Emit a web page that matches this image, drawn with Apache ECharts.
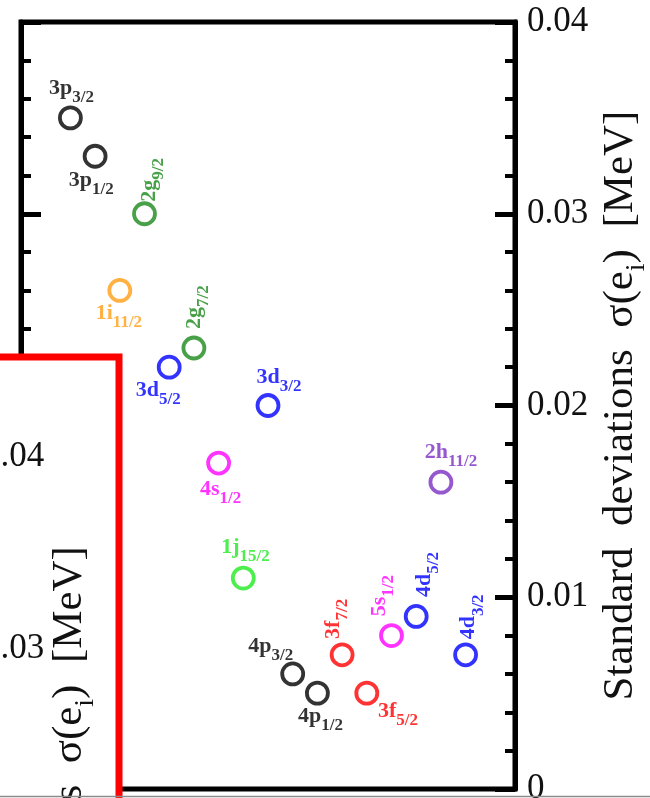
<!DOCTYPE html>
<html>
<head>
<meta charset="utf-8">
<script src="https://cdn.jsdelivr.net/npm/echarts@6/dist/echarts.min.js"></script>
<style>
  html, body { margin: 0; padding: 0; background: #ffffff; }
  #chart { width: 650px; height: 798px; }
</style>
</head>
<body>
<div id="chart"></div>
<script>
// Single-particle orbitals, in the order they sit along the horizontal axis
const orbitalShells = ['3p', '3p', '1i', '2g', '3d', '2g', '4s', '1j', '3d', '4p', '4p', '3f', '3f', '5s', '4d', '2h', '4d'];
const orbitalJ      = ['3/2', '1/2', '11/2', '9/2', '5/2', '7/2', '1/2', '15/2', '3/2', '3/2', '1/2', '7/2', '5/2', '1/2', '5/2', '11/2', '3/2'];
const orbitalOrder  = [2, 3, 4, 5, 6, 7, 8, 9, 10, 11, 12, 13, 14, 15, 16, 17, 18];

// Standard deviation of each single-particle energy [MeV]
const sigmaValues = [0.035, 0.033, 0.026, 0.030, 0.022, 0.023, 0.017, 0.011, 0.020, 0.006, 0.005, 0.007, 0.005, 0.008, 0.009, 0.016, 0.007];

// Tick labels of the deviation axis
const yTickLabels = ['0', '0.01', '0.02', '0.03', '0.04'];

// ---- styling ----
const SERIF = '"Liberation Serif", "Times New Roman", Times, serif';
const SYMBOL = 21;
const HALF = SYMBOL / 2;

// marker colour by orbital angular momentum letter
const lColors = {
  p: '#000000', g: '#1a8a1a', i: '#ff9d14', d: '#0000ff',
  s: '#ff00ff', j: '#22ea22', f: '#ff0000', h: '#7a2ec2'
};

// label placement around each marker: [dx, dy, rotation in degrees]
const labelPlacement = {
  '3p3/2':  [3, -27, 0],
  '3p1/2':  [-2, 27, 0],
  '1i11/2': [1, 26, 0],
  '2g9/2':  [8, -32, 90],
  '3d5/2':  [-9, 26, 0],
  '2g7/2':  [3, -39, 90],
  '4s1/2':  [4, 29, 0],
  '1j15/2': [4, -28, 0],
  '3d3/2':  [13, -25, 0],
  '4p3/2':  [-20, -25, 0],
  '4p1/2':  [5, 26, 0],
  '3f7/2':  [-6, -34, 90],
  '3f5/2':  [33, 21, 0],
  '5s1/2':  [-9, -38, 90],
  '4d5/2':  [11, -40, 90],
  '2h11/2': [12, -27, 0],
  '4d3/2':  [6, -36, 90]
};

const points = orbitalShells.map(function (shell, k) {
  const key = shell + orbitalJ[k];
  const color = lColors[shell.charAt(1)];
  const place = labelPlacement[key];
  return {
    name: key,
    value: [orbitalOrder[k], sigmaValues[k]],
    itemStyle: { color: '#ffffff', borderColor: color, borderWidth: 3.8 },
    label: {
      show: true,
      position: [HALF + place[0], HALF + place[1]],
      align: 'center',
      verticalAlign: 'middle',
      rotate: place[2],
      color: color,
      formatter: '{m|' + shell + '}{s|' + orbitalJ[k] + '}',
      rich: {
        m: { fontFamily: SERIF, fontWeight: 'bold', fontSize: 22, lineHeight: 24, verticalAlign: 'top', color: color },
        s: { fontFamily: SERIF, fontWeight: 'bold', fontSize: 17, lineHeight: 17, padding: [12, 0, 0, 0], verticalAlign: 'top', color: color }
      }
    }
  };
});

const axisName = '{t|Standard  deviations  σ(e}{s|i}{t|)  [MeV]}';
const axisNameStyle = {
  rich: {
    t: { fontFamily: SERIF, fontSize: 43, lineHeight: 48, color: '#111111', verticalAlign: 'top' },
    s: { fontFamily: SERIF, fontSize: 28, lineHeight: 28, padding: [23, 0, 0, 0], color: '#111111', verticalAlign: 'top' }
  }
};

function tickLabel(v) {
  return yTickLabels[Math.round(v / 0.01)];
}

function deviationAxis(gridIndex, position, withLabels, z, nameGap) {
  return {
    gridIndex: gridIndex,
    type: 'value',
    position: position,
    min: 0,
    max: 0.04,
    interval: 0.01,
    z: z,
    axisLine: { show: true, onZero: false, lineStyle: { color: '#000', width: 5 } },
    axisTick: { show: true, inside: true, length: 20, lineStyle: { color: '#000', width: 5 } },
    minorTick: { show: true, splitNumber: 5, length: 10, lineStyle: { color: '#000', width: 4 } },
    splitLine: { show: false },
    minorSplitLine: { show: false },
    axisLabel: {
      show: withLabels, margin: 12, fontFamily: SERIF, fontSize: 35, color: '#111111',
      formatter: tickLabel
    },
    name: withLabels ? axisName : '',
    nameLocation: 'middle',
    nameRotate: 90,
    nameGap: nameGap,
    nameTextStyle: axisNameStyle
  };
}

const chart = echarts.init(document.getElementById('chart'), null, { renderer: 'canvas' });
chart.setOption({
  animation: false,
  backgroundColor: '#ffffff',
  grid: [
    { left: 21, right: 135, top: 22, bottom: 9, outerBoundsMode: 'none', containLabel: false,
      show: true, borderColor: '#000', borderWidth: 5, backgroundColor: 'transparent' },
    // enlarged copy of the deviation axis shown in the framed inset
    { left: -300, width: 271, top: 457, height: 768, outerBoundsMode: 'none', containLabel: false, show: false }
  ],
  xAxis: [
    { gridIndex: 0, type: 'value', min: 0, max: 20, show: false },
    { gridIndex: 1, type: 'value', min: 0, max: 1, show: false }
  ],
  yAxis: [
    deviationAxis(0, 'right', true, 0, 82),
    deviationAxis(0, 'left', false, 0, 82),
    deviationAxis(1, 'right', true, 110, 77)
  ],
  graphic: {
    elements: [
      {
        type: 'rect', z: 100,
        shape: { x: -20, y: 357, width: 139, height: 500 },
        style: { fill: '#ffffff', stroke: '#ff0000', lineWidth: 7 }
      },
      {
        type: 'line', z: 120,
        shape: { x1: 0, y1: 796.5, x2: 650, y2: 796.5 },
        style: { stroke: '#8a8a8a', lineWidth: 1.5 }
      }
    ]
  },
  series: [{
    type: 'scatter',
    xAxisIndex: 0,
    yAxisIndex: 0,
    symbol: 'circle',
    symbolSize: SYMBOL,
    data: points
  }]
});
</script>
</body>
</html>
